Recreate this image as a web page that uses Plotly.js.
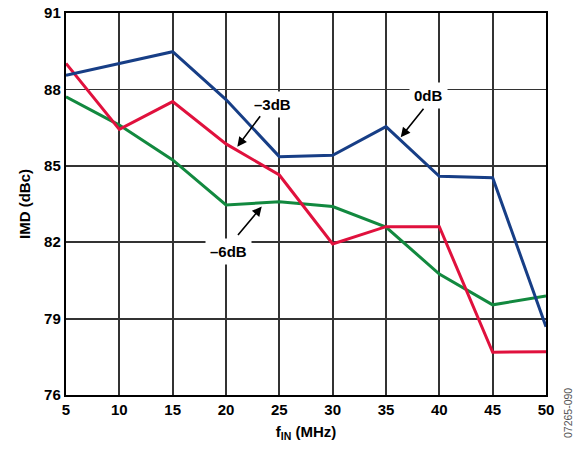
<!DOCTYPE html>
<html><head><meta charset="utf-8">
<script src="https://cdn.plot.ly/plotly-3.0.1.min.js"></script>
<style>html,body{margin:0;padding:0;background:#fff}#c{width:583px;height:452px}</style>
</head><body><div id="c"></div>
<script>
const freqMHz = [5, 10, 15, 20, 25, 30, 35, 40, 45, 50];
const imd0dB  = [88.55, 89.0, 89.48, 87.6, 85.36, 85.41, 86.54, 84.59, 84.53, 78.68];
const imd3dB  = [89.02, 86.43, 87.52, 85.86, 84.64, 81.93, 82.61, 82.61, 77.68, 77.70];
const imd6dB  = [87.71, 86.6, 85.23, 83.46, 83.59, 83.4, 82.59, 80.75, 79.54, 79.89];
const yTicks = [76, 79, 82, 85, 88, 91];
const xTicks = [5, 10, 15, 20, 25, 30, 35, 40, 45, 50];

const F = 'Liberation Sans, Arial, sans-serif';
const traces = [
  {x: freqMHz, y: imd6dB, mode: 'lines', line: {color: '#12893F', width: 3}, name: '-6dB'},
  {x: freqMHz, y: imd3dB, mode: 'lines', line: {color: '#E0113D', width: 3}, name: '-3dB'},
  {x: freqMHz, y: imd0dB, mode: 'lines', line: {color: '#173E86', width: 3}, name: '0dB'}
];
function arrow(x, y, ax, ay) {
  return {x: x, y: y, xref: 'x', yref: 'y', ax: ax, ay: ay, text: '', showarrow: true,
          arrowhead: 2, arrowsize: 1.2, arrowwidth: 1.6, arrowcolor: '#000'};
}
function label(x, y, t) {
  return {x: x, y: y, xref: 'x', yref: 'y', text: '<b>' + t + '</b>', showarrow: false,
          bgcolor: '#fff', borderpad: 4, font: {family: F, size: 15, color: '#000'}};
}
const layout = {
  width: 583, height: 452,
  margin: {l: 66, r: 37, t: 13, b: 57},
  paper_bgcolor: '#fff', plot_bgcolor: '#fff',
  showlegend: false,
  xaxis: {range: [5, 50], tickvals: xTicks, ticktext: xTicks.map(String),
          showgrid: true, gridcolor: '#333', gridwidth: 1.8, zeroline: false,
          showline: true, linecolor: '#000', linewidth: 2.2, mirror: true, ticks: '',
          tickfont: {family: F, size: 15, color: '#000', weight: 'bold'},
          title: {text: '<b>f<sub>IN</sub> (MHz)</b>', font: {family: F, size: 15, color: '#000'}, standoff: 9}},
  yaxis: {range: [76, 91], tickvals: yTicks, ticktext: yTicks.map(String),
          showgrid: true, gridcolor: '#333', gridwidth: 1.8, zeroline: false,
          showline: true, linecolor: '#000', linewidth: 2.2, mirror: true, ticks: '',
          tickfont: {family: F, size: 15, color: '#000', weight: 'bold'},
          title: {text: '<b>IMD (dBc)</b>', font: {family: F, size: 15, color: '#000'}, standoff: 10}},
  annotations: [
    label(39.03, 87.78, '0dB'),
    arrow(36.38, 86.12, 24, -30),
    label(24.38, 87.39, '–3dB'),
    arrow(21.06, 85.75, 24, -32),
    label(20.21, 81.63, '–6dB'),
    arrow(23.35, 83.4, -25, 30),
    {x: (568 - 66) / 480, y: -(413 - 395) / 382, xref: 'paper', yref: 'paper',
     xanchor: 'center', yanchor: 'middle', text: '07265-090', showarrow: false,
     textangle: -90, font: {family: F, size: 10.5, color: '#555'}}
  ]
};
Plotly.newPlot('c', traces, layout, {staticPlot: true});
</script></body></html>
